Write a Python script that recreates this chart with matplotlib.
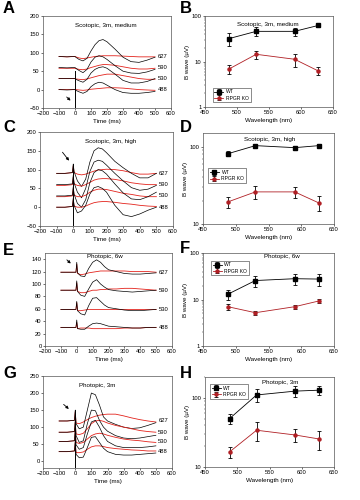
import numpy as np
import matplotlib
matplotlib.use("Agg")
import matplotlib.pyplot as plt

plt.rcParams['font.family'] = ['Liberation Sans', 'DejaVu Sans']

# --- data ---
# ERG traces, sampled times (ms)
t = [-100, -50, -5, 0, 5, 25, 50, 75, 100, 125, 150, 175, 200, 250, 300, 350, 400, 450, 500]
waves = ['627', '590', '530', '488']

a_black = [
    [90, 89, 90, 90, 88, 82, 78, 85, 105, 122, 133, 136, 130, 110, 88, 76, 74, 80, 88],
    [60, 59, 60, 60, 58, 52, 46, 55, 75, 88, 92, 89, 82, 65, 50, 45, 44, 48, 55],
    [30, 30, 30, 30, 28, 24, 20, 28, 45, 55, 60, 62, 58, 42, 25, 18, 18, 22, 30],
    [0, -1, 0, 0, -2, -6, -10, -5, 8, 16, 20, 18, 12, 0, -8, -10, -10, -8, -5],
]
a_red = [
    [90, 89, 90, 90, 89, 86, 84, 86, 88, 90, 91, 92, 92, 92, 91, 90, 89, 89, 89],
    [58, 58, 58, 58, 57, 55, 54, 56, 60, 63, 66, 68, 68, 66, 62, 58, 56, 56, 58],
    [30, 30, 30, 30, 29, 28, 27, 29, 32, 35, 38, 40, 42, 42, 38, 34, 30, 28, 28],
    [0, 0, 0, 0, 0, -1, -2, -1, 1, 2, 3, 4, 5, 5, 4, 2, 0, -1, -2],
]
c_black = [
    [90, 90, 92, 115, 95, 70, 55, 75, 120, 150, 158, 155, 145, 122, 105, 90, 78, 78, 90],
    [60, 60, 62, 85, 65, 40, 25, 50, 95, 120, 125, 122, 112, 90, 70, 52, 45, 48, 58],
    [30, 30, 32, 55, 35, 10, 0, 20, 65, 92, 100, 97, 88, 62, 38, 22, 20, 28, 40],
    [0, 0, 2, 25, 5, -15, -10, 5, 35, 52, 55, 50, 40, 5, -20, -25, -18, -8, 0],
]
c_red = [
    [90, 90, 92, 110, 92, 88, 86, 88, 92, 96, 99, 100, 101, 100, 97, 92, 88, 88, 90],
    [58, 58, 60, 80, 62, 58, 56, 60, 66, 72, 75, 76, 76, 74, 70, 65, 62, 60, 60],
    [28, 28, 30, 50, 32, 28, 28, 32, 40, 45, 48, 48, 47, 42, 37, 34, 30, 28, 28],
    [0, 0, 2, 20, 3, 0, 0, 3, 8, 12, 14, 15, 15, 13, 10, 8, 5, 3, 2],
]
e_black = [
    [119, 119, 119, 135, 118, 113, 112, 125, 135, 139, 135, 128, 123, 120, 117, 116, 116, 117, 118],
    [90, 90, 90, 105, 88, 82, 80, 92, 103, 107, 100, 95, 91, 89, 88, 87, 88, 89, 90],
    [59, 59, 59, 72, 57, 52, 50, 65, 77, 78, 72, 66, 62, 60, 58, 57, 57, 58, 59],
    [30, 30, 30, 42, 28, 27, 27, 32, 36, 37, 36, 34, 32, 31, 30, 29, 29, 30, 30],
]
e_red = [
    [119, 119, 119, 132, 117, 115, 116, 118, 119, 120, 121, 121, 121, 121, 121, 120, 120, 120, 119],
    [90, 90, 90, 102, 88, 86, 86, 88, 90, 90, 91, 91, 92, 92, 93, 93, 92, 91, 90],
    [59, 59, 59, 70, 57, 57, 58, 59, 59, 59, 59, 59, 59, 59, 59, 59, 59, 59, 59],
    [30, 30, 30, 38, 28, 29, 29, 29, 28, 28, 28, 28, 28, 28, 29, 29, 29, 30, 30],
]
g_black = [
    [118, 118, 120, 150, 110, 95, 100, 150, 200, 195, 165, 130, 118, 108, 100, 96, 98, 105, 113],
    [85, 85, 87, 120, 75, 55, 60, 110, 150, 148, 120, 100, 88, 75, 68, 66, 68, 72, 76],
    [58, 58, 60, 95, 48, 35, 40, 80, 115, 120, 100, 75, 58, 45, 40, 40, 40, 42, 45],
    [28, 28, 30, 60, 20, 10, 12, 40, 70, 72, 55, 38, 28, 20, 18, 18, 20, 22, 24],
]
g_red = [
    [118, 118, 120, 145, 112, 110, 115, 122, 128, 132, 135, 137, 138, 138, 133, 127, 122, 118, 115],
    [85, 85, 87, 115, 80, 78, 82, 95, 110, 118, 120, 117, 112, 105, 100, 95, 90, 87, 85],
    [58, 58, 60, 90, 55, 52, 55, 65, 75, 80, 82, 80, 76, 70, 65, 62, 60, 57, 55],
    [28, 28, 30, 55, 25, 25, 27, 35, 42, 45, 45, 43, 40, 37, 35, 33, 32, 30, 30],
]

# b-wave amplitudes vs wavelength
wl = [488, 530, 590, 627]
b_wt, b_wt_err = [32, 46, 46, 62], [10, 10, 9, 4]
b_ko, b_ko_err = [6.9, 14.4, 11.2, 6.2], [1.5, 3, 3.5, 1.2]
d_wt, d_wt_err = [81, 103, 97, 103], [6, 3, 3, 5]
d_ko, d_ko_err = [19.3, 26, 26, 18.7], [3, 5, 4.5, 4]
f_wt, f_wt_err = [13, 25.6, 28, 27.5], [3, 7, 7, 8]
f_ko, f_ko_err = [7, 5.2, 7, 9.3], [1, 0.5, 0.8, 1]
h_wt, h_wt_err = [50, 110, 125, 129], [8, 22, 22, 20]
h_ko, h_ko_err = [16.5, 34, 29, 25.4], [3, 10, 6, 8]

ko_name = 'RPGR KO'
RED = '#e3231c'
DRED = '#b01f24'
FS = 4.2


def px(x0, y0, x1, y1):
    return [x0 / 360, 1 - y1 / 500, (x1 - x0) / 360, (y1 - y0) / 500]


def style(ax):
    for s in ax.spines.values():
        s.set_linewidth(0.5)
        s.set_color('#555555')
    ax.tick_params(labelsize=FS, width=0.4, length=1.5, pad=1)


def traces(ax, black, red, ylim, yticks, title, tx, ty, vline, arrow):
    for k in range(4):
        ax.plot(t, red[k], color=RED, lw=0.6)
        ax.plot(t, black[k], color='black', lw=0.5)
        ax.text(515, black[k][0], waves[k], fontsize=FS, va='center', ha='left')
    if vline:
        ax.plot([0, 0], vline, color='black', lw=0.7)
    ax.annotate('', xy=arrow[1], xytext=arrow[0],
                arrowprops=dict(arrowstyle='-|>', color='black', lw=0.6,
                                mutation_scale=4))
    ax.set_xlim(-200, 600)
    ax.set_xticks(range(-200, 601, 100))
    ax.set_ylim(*ylim)
    ax.set_yticks(yticks)
    ax.set_xlabel('Time (ms)', fontsize=FS + 0.3, labelpad=1.5)
    ax.text(tx, ty, title, fontsize=FS + 0.3, ha='center', va='center')
    style(ax)


def bwave(ax, wt, wterr, ko, koerr, ylim, title, tx, ty, legloc):
    ax.errorbar(wl, wt, yerr=wterr, color='black', marker='s', ms=2.2, lw=0.6,
                elinewidth=0.6, capsize=1.5, capthick=0.6, label='WT')
    ax.errorbar(wl, ko, yerr=koerr, color=DRED, marker='o', ms=2.2, lw=0.6,
                mec=DRED, ecolor='black', elinewidth=0.6, capsize=1.5,
                capthick=0.6, label=ko_name)
    ax.set_yscale('log')
    ax.set_ylim(*ylim)
    ax.set_xlim(450, 650)
    ax.set_xticks([450, 500, 550, 600, 650])
    ax.yaxis.set_major_formatter(matplotlib.ticker.FuncFormatter(lambda v, p: '%g' % v))
    ax.yaxis.set_minor_formatter(matplotlib.ticker.NullFormatter())
    ax.tick_params(which='minor', length=1, width=0.3)
    ax.set_xlabel('Wavelength (nm)', fontsize=FS + 0.3, labelpad=1.5)
    ax.set_ylabel('B wave (µV)', fontsize=FS + 0.3, labelpad=1.5)
    ax.text(tx, ty, title, fontsize=FS + 0.3, ha='center', va='center',
            transform=ax.transAxes)
    leg = ax.legend(loc=legloc, fontsize=FS - 0.6, frameon=True, fancybox=False,
                    edgecolor='black', handlelength=1.8, handletextpad=0.5,
                    borderpad=0.35, labelspacing=0.25)
    leg.get_frame().set_linewidth(0.4)
    style(ax)


fig = plt.figure(figsize=(3.6, 5.0), dpi=100)

axA = fig.add_axes(px(43, 16, 171, 108))
traces(axA, a_black, a_red, (-50, 200), range(-50, 201, 50),
       'Scotopic, 3m, medium', 190, 175, (-50, 50), ((-65, -15), (-15, -35)))
axB = fig.add_axes(px(205, 16, 333, 107))
bwave(axB, b_wt, b_wt_err, b_ko, b_ko_err, (1, 100), 'Scotopic, 3m, medium',
      0.49, 0.91, (0.06, 0.05))

axC = fig.add_axes(px(40, 132, 173, 226))
traces(axC, c_black, c_red, (-50, 200), range(-50, 201, 50),
       'Scotopic, 3m, high', 225, 176, (-50, 115), ((-75, 152), (-15, 118)))
axD = fig.add_axes(px(203, 133, 334, 224))
bwave(axD, d_wt, d_wt_err, d_ko, d_ko_err, (10, 150), 'Scotopic, 3m, high',
      0.51, 0.93, (0.04, 0.45))

axE = fig.add_axes(px(45, 253, 172, 346))
traces(axE, e_black, e_red, (0, 150), range(0, 141, 20),
       'Photopic, 6w', 180, 145, None, ((-75, 142), (-25, 130)))
axF = fig.add_axes(px(203, 253, 334, 346))
bwave(axF, f_wt, f_wt_err, f_ko, f_ko_err, (1, 100), 'Photopic, 6w',
      0.6, 0.96, (0.06, 0.76))

axG = fig.add_axes(px(43, 376, 172, 468))
traces(axG, g_black, g_red, (-20, 250), range(0, 251, 50),
       'Photopic, 3m', 133, 223, (-20, 150), ((-85, 172), (-27, 148)))
axH = fig.add_axes(px(205, 377, 334, 467))
bwave(axH, h_wt, h_wt_err, h_ko, h_ko_err, (10, 200), 'Photopic, 3m',
      0.58, 0.94, (0.04, 0.76))

for lab, x, y in [('A', 3, 1), ('B', 180, 1), ('C', 3, 120), ('D', 180, 120),
                  ('E', 3, 243), ('F', 180, 241), ('G', 3, 366), ('H', 180, 366)]:
    fig.text(x / 360, 1 - y / 500, lab, fontsize=12, fontweight='bold',
             va='top', ha='left')

fig.savefig('out.png', dpi=100)
